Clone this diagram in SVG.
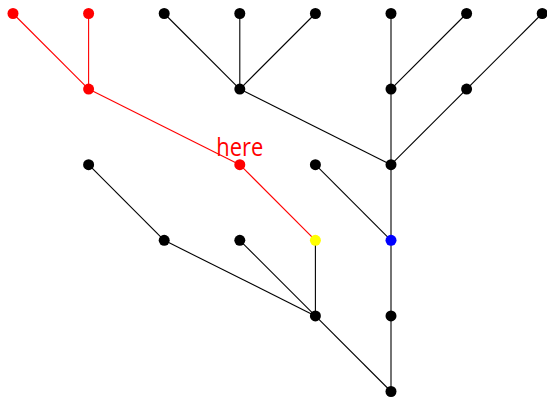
<svg xmlns="http://www.w3.org/2000/svg" width="547" height="398" viewBox="0 0 547 398">
  <style>
    .edge { stroke: #000; stroke-width: 1.1; fill: none; }
    .edge.hot { stroke: #ff0000; }
    .node { fill: #000; }
    .node.hot { fill: #ff0000; }
    .node.cur { fill: #ffff00; }
    .node.mark { fill: #0000ff; }
    .label { font-family: "Open Sans", "Liberation Sans", sans-serif; font-size: 26px; fill: #ff0000; }
  </style>
  <rect width="547" height="398" fill="#fff"/>
  <g id="connectors">
    <line class="edge hot" x1="13" y1="13.5" x2="88.6" y2="89.1"/>
    <line class="edge hot" x1="88.6" y1="13.5" x2="88.6" y2="89.1"/>
    <line class="edge hot" x1="88.6" y1="89.1" x2="239.8" y2="164.7"/>
    <line class="edge hot" x1="239.8" y1="164.7" x2="315.4" y2="240.3"/>
    <line class="edge" x1="164.2" y1="13.5" x2="239.8" y2="89.1"/>
    <line class="edge" x1="239.8" y1="13.5" x2="239.8" y2="89.1"/>
    <line class="edge" x1="315.4" y1="13.5" x2="239.8" y2="89.1"/>
    <line class="edge" x1="239.8" y1="89.1" x2="391" y2="164.7"/>
    <line class="edge" x1="391" y1="13.5" x2="391" y2="89.1"/>
    <line class="edge" x1="466.6" y1="13.5" x2="391" y2="89.1"/>
    <line class="edge" x1="542.2" y1="13.5" x2="466.6" y2="89.1"/>
    <line class="edge" x1="466.6" y1="89.1" x2="391" y2="164.7"/>
    <line class="edge" x1="391" y1="89.1" x2="391" y2="164.7"/>
    <line class="edge" x1="391" y1="164.7" x2="391" y2="240.3"/>
    <line class="edge" x1="315.4" y1="164.7" x2="391" y2="240.3"/>
    <line class="edge" x1="391" y1="240.3" x2="391" y2="315.9"/>
    <line class="edge" x1="391" y1="315.9" x2="391" y2="391.5"/>
    <line class="edge" x1="315.4" y1="315.9" x2="391" y2="391.5"/>
    <line class="edge" x1="88.6" y1="164.7" x2="164.2" y2="240.3"/>
    <line class="edge" x1="164.2" y1="240.3" x2="315.4" y2="315.9"/>
    <line class="edge" x1="239.8" y1="240.3" x2="315.4" y2="315.9"/>
    <line class="edge" x1="315.4" y1="240.3" x2="315.4" y2="315.9"/>
  </g>
  <g id="n1"><circle class="node hot" cx="13" cy="13.5" r="5.5"/></g>
  <g id="n2"><circle class="node hot" cx="88.6" cy="13.5" r="5.5"/></g>
  <g id="n3"><circle class="node" cx="164.2" cy="13.5" r="5.5"/></g>
  <g id="n4"><circle class="node" cx="239.8" cy="13.5" r="5.5"/></g>
  <g id="n5"><circle class="node" cx="315.4" cy="13.5" r="5.5"/></g>
  <g id="n6"><circle class="node" cx="391" cy="13.5" r="5.5"/></g>
  <g id="n7"><circle class="node" cx="466.6" cy="13.5" r="5.5"/></g>
  <g id="n8"><circle class="node" cx="542.2" cy="13.5" r="5.5"/></g>
  <g id="n9"><circle class="node hot" cx="88.6" cy="89.1" r="5.5"/></g>
  <g id="n10"><circle class="node" cx="239.8" cy="89.1" r="5.5"/></g>
  <g id="n11"><circle class="node" cx="391" cy="89.1" r="5.5"/></g>
  <g id="n12"><circle class="node" cx="466.6" cy="89.1" r="5.5"/></g>
  <g id="n13"><circle class="node" cx="88.6" cy="164.7" r="5.5"/></g>
  <g id="n14">
    <circle class="node hot" cx="239.8" cy="164.7" r="5.5"/>
    <text class="label" x="239.8" y="155.5" text-anchor="middle" textLength="47" lengthAdjust="spacingAndGlyphs">here</text>
  </g>
  <g id="n15"><circle class="node" cx="315.4" cy="164.7" r="5.5"/></g>
  <g id="n16"><circle class="node" cx="391" cy="164.7" r="5.5"/></g>
  <g id="n17"><circle class="node" cx="164.2" cy="240.3" r="5.5"/></g>
  <g id="n18"><circle class="node" cx="239.8" cy="240.3" r="5.5"/></g>
  <g id="n19"><circle class="node cur" cx="315.4" cy="240.3" r="5.5"/></g>
  <g id="n20"><circle class="node mark" cx="391" cy="240.3" r="5.5"/></g>
  <g id="n21"><circle class="node" cx="315.4" cy="315.9" r="5.5"/></g>
  <g id="n22"><circle class="node" cx="391" cy="315.9" r="5.5"/></g>
  <g id="n23"><circle class="node" cx="391" cy="391.5" r="5.5"/></g>
</svg>
